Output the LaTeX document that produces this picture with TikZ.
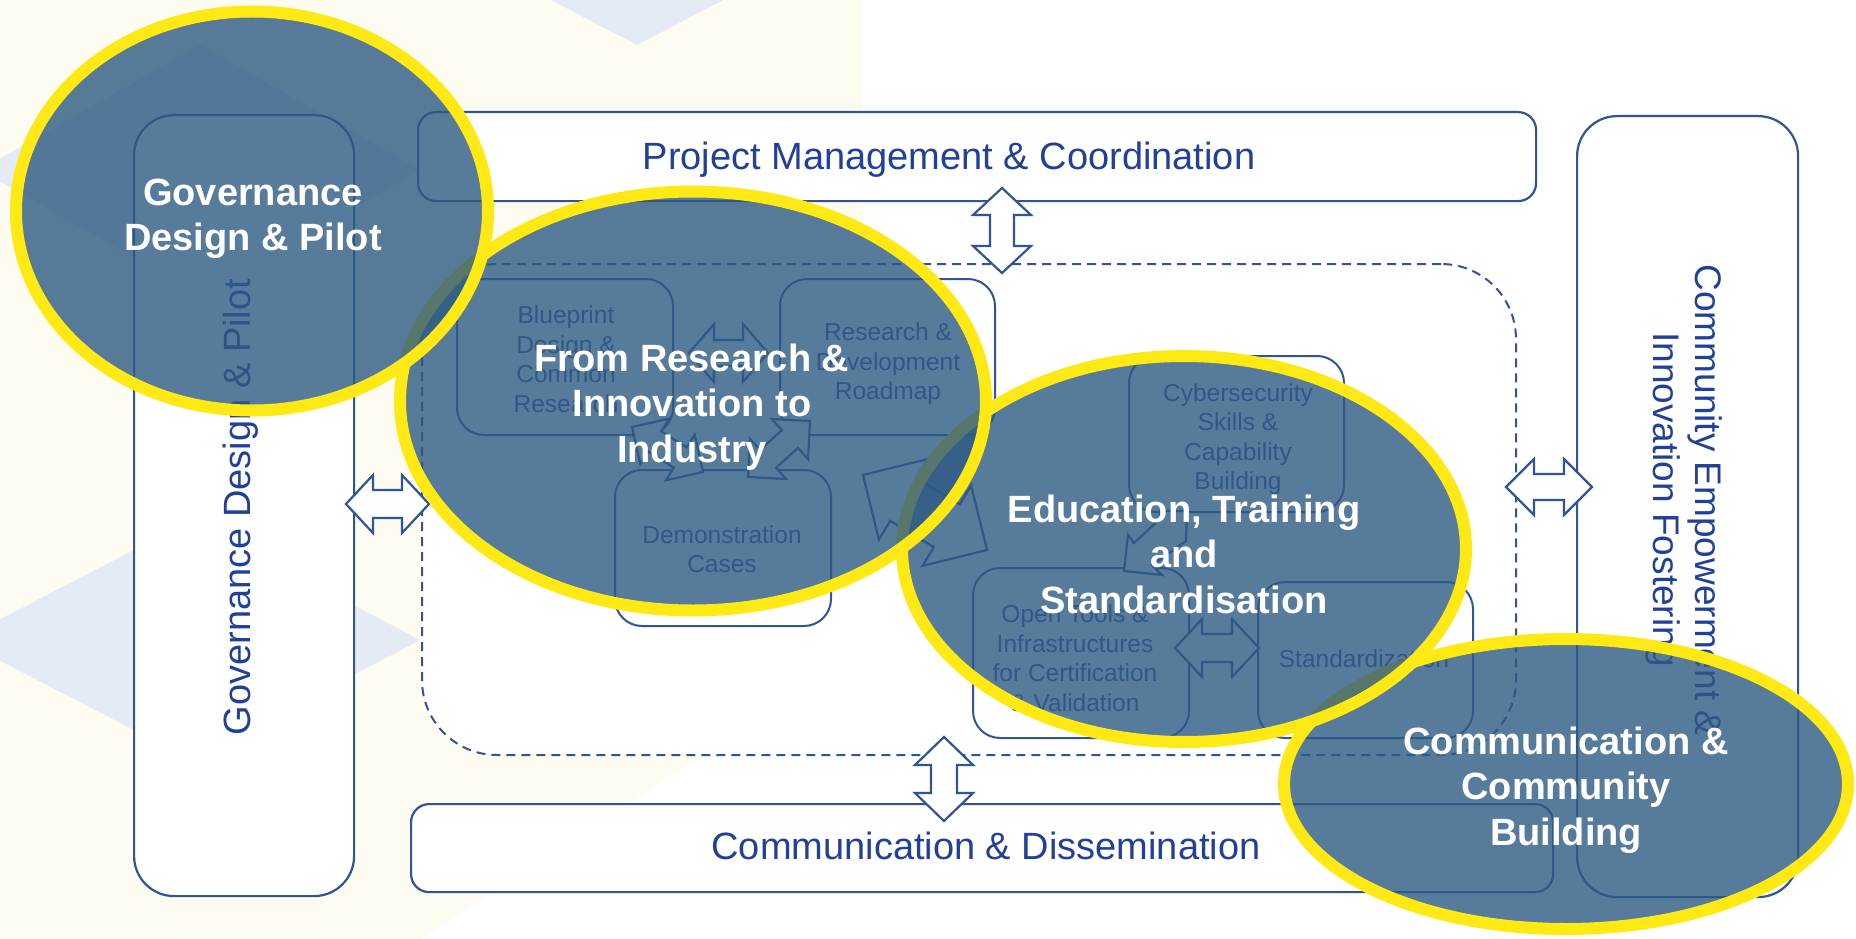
\documentclass[tikz,border=0pt]{standalone}
\usepackage{fontspec}
\setmainfont{Liberation Sans}
\usetikzlibrary{calc,shapes.geometric}

\definecolor{lineblue}{RGB}{47,85,151}
\definecolor{textblue}{RGB}{32,64,154}
\definecolor{ellblue}{RGB}{46,90,131}
\definecolor{ringyellow}{RGB}{255,233,20}
\definecolor{bgblue}{RGB}{228,235,244}
\definecolor{bgcream}{RGB}{254,252,241}

\newcommand{\bigfnt}{\fontsize{38pt}{45pt}\selectfont}
\newcommand{\comfnt}{\fontsize{37pt}{42.5pt}\selectfont}
\newcommand{\smallfnt}{\fontsize{24.5pt}{29.5pt}\selectfont}
\newcommand{\boldfnt}{\fontsize{38pt}{45.5pt}\selectfont\bfseries}

% double block arrow from #1 to #2: head length #3, head half-width #4, shaft half-width #5
\newcommand{\dblarr}[5]{%
  \draw[blockarrow] (#1)
    -- ($(#1)!#3!(#2)!#4!90:(#2)$)
    -- ($(#1)!#3!(#2)!#5!90:(#2)$)
    -- ($(#2)!#3!(#1)!#5!-90:(#1)$)
    -- ($(#2)!#3!(#1)!#4!-90:(#1)$)
    -- (#2)
    -- ($(#2)!#3!(#1)!#4!90:(#1)$)
    -- ($(#2)!#3!(#1)!#5!90:(#1)$)
    -- ($(#1)!#3!(#2)!#5!-90:(#2)$)
    -- ($(#1)!#3!(#2)!#4!-90:(#2)$)
    -- cycle;}

\begin{document}
\begin{tikzpicture}[x=1pt,y=-1pt,
  outerbox/.style={draw=lineblue, line width=2.2pt, fill=white, inner sep=0pt, anchor=north west},
  innerbox/.style={draw=lineblue, line width=2pt, fill=white, rounded corners=27pt, inner sep=0pt, anchor=north west},
  boxlabel/.style={text=textblue, font=\bigfnt, inner sep=0pt},
  smalllabel/.style={text=lineblue, font=\smallfnt, align=center, inner sep=0pt},
  blockarrow/.style={draw=lineblue, line width=2.2pt, fill=white, line join=miter},
  bubble/.style={ellipse, draw=ringyellow, line width=12pt, fill=ellblue, fill opacity=0.8, inner sep=0pt},
  bubbletext/.style={text=white, font=\boldfnt, align=center, inner sep=0pt}]

\useasboundingbox (0,0) rectangle (1856,939);
\fill[white] (0,0) rectangle (1856,939);

% background decoration
\fill[bgcream] (0,0) -- (862,0) -- (862,650) -- (420,939) -- (0,939) -- cycle;
\fill[bgblue] (551,0) -- (723,0) -- (637,45) -- cycle;
\fill[bgblue] (200,45) -- (420,170) -- (200,295) -- (-20,170) -- cycle;
\fill[bgblue] (192,520) -- (420,640) -- (192,760) -- (-40,640) -- cycle;

% outer boxes
\node[outerbox, rounded corners=40pt, minimum width=220pt, minimum height=781pt] (gov) at (133,114) {};
\node[outerbox, rounded corners=18pt, minimum width=1118pt, minimum height=89pt] (pm) at (417,111) {};
\node[outerbox, rounded corners=40pt, minimum width=221pt, minimum height=781pt] (com) at (1576,115) {};
\node[outerbox, rounded corners=18pt, minimum width=1142pt, minimum height=88pt] (cd) at (410,803) {};

\node[boxlabel, rotate=90] (govt) at (241,507) {Governance Design \& Pilot};
\node[boxlabel] (pmt) at (949,160) {Project Management \& Coordination};
\node[boxlabel] (cdt) at (986,846) {Communication \& Dissemination};
\node[text=textblue, font=\comfnt, align=center, inner sep=0pt, rotate=-90] (comt) at (1684,500)
  {Community Empowerment \&\\Innovation Fostering};

% dashed core region
\node[draw=lineblue, line width=2pt, dash pattern=on 9pt off 6pt, fill=white, rounded corners=75pt,
  minimum width=1094pt, minimum height=491pt, inner sep=0pt, anchor=north west] (core) at (421,263) {};

% inner boxes
\node[innerbox, minimum width=216pt, minimum height=156pt] (bp) at (456,278) {};
\node[innerbox, minimum width=215pt, minimum height=156pt] (rd) at (779,278) {};
\node[innerbox, minimum width=216pt, minimum height=156pt] (dc) at (614,469) {};
\node[innerbox, minimum width=215pt, minimum height=156pt] (cy) at (1128,355) {};
\node[innerbox, minimum width=216pt, minimum height=170pt] (ot) at (972,567) {};
\node[innerbox, minimum width=215pt, minimum height=156pt] (sd) at (1257,581) {};

\node[smalllabel] (bpt) at (566,359) {Blueprint\\Design \&\\Common\\Research};
\node[smalllabel] (rdt) at (888,364) {Research \&\\Development\\Roadmap};
\node[smalllabel] (dct) at (722,549) {Demonstration\\Cases};
\node[smalllabel] (cyt) at (1238,439) {Cybersecurity\\Skills \&\\Capability\\Building};
\node[smalllabel] (ott) at (1075,658) {Open Tools \&\\Infrastructures\\for Certification\\\& Validation};
\node[smalllabel] (sdt) at (1364,659) {Standardization};

% block arrows
\coordinate (pmA) at (1002,188); \coordinate (pmB) at (1002,273);
\coordinate (cdA) at (944,737);  \coordinate (cdB) at (944,821);
\coordinate (gvA) at (346,504);  \coordinate (gvB) at (429,504);
\coordinate (cmA) at (1506,487); \coordinate (cmB) at (1592,487);
\coordinate (brA) at (689,353);  \coordinate (brB) at (768,353);
\coordinate (osA) at (1175,648); \coordinate (osB) at (1259,648);
\coordinate (d1A) at (632,427);  \coordinate (d1B) at (703,472);
\coordinate (d2A) at (748,477);  \coordinate (d2B) at (810,421);
\coordinate (d3A) at (863,475);  \coordinate (d3B) at (987,550);

\dblarr{pmA}{pmB}{27pt}{29pt}{12pt}
\dblarr{cdA}{cdB}{28pt}{29pt}{13pt}
\dblarr{gvA}{gvB}{27pt}{29pt}{14pt}
\dblarr{cmA}{cmB}{28pt}{28pt}{13pt}
\dblarr{brA}{brB}{25pt}{29pt}{13pt}
\dblarr{osA}{osB}{27pt}{29pt}{14pt}
\dblarr{d1A}{d1B}{27pt}{27pt}{12pt}
\dblarr{d2A}{d2B}{27pt}{27pt}{12pt}
\dblarr{d3A}{d3B}{47pt}{47pt}{25pt}
\draw[blockarrow] (1160,511) -- (1160,519) -- (1134,543) -- (1128,535) -- (1124,571)
  -- (1162,575) -- (1152,565) -- (1186,541) -- (1187,511) -- cycle;

% highlight ellipses
\node[bubble, minimum width=564pt, minimum height=290pt] (e4) at (1566,784) {};
\node[bubble, minimum width=564pt, minimum height=386pt] (e3) at (1184,549) {};
\node[bubble, minimum width=586pt, minimum height=419pt] (e2) at (693,401) {};
\node[bubble, minimum width=472pt, minimum height=399pt] (e1) at (252,211) {};

\node[bubbletext] (e1t) at (253,219) {Governance\\Design \& Pilot};
\node[bubbletext] (e2t) at (692,407) {From Research \&\\Innovation to\\Industry};
\node[bubbletext] (e3t) at (1184,554) {Education, Training\\and\\Standardisation};
\node[bubbletext] (e4t) at (1566,790) {Communication \&\\Community\\Building};
\end{tikzpicture}
\end{document}
